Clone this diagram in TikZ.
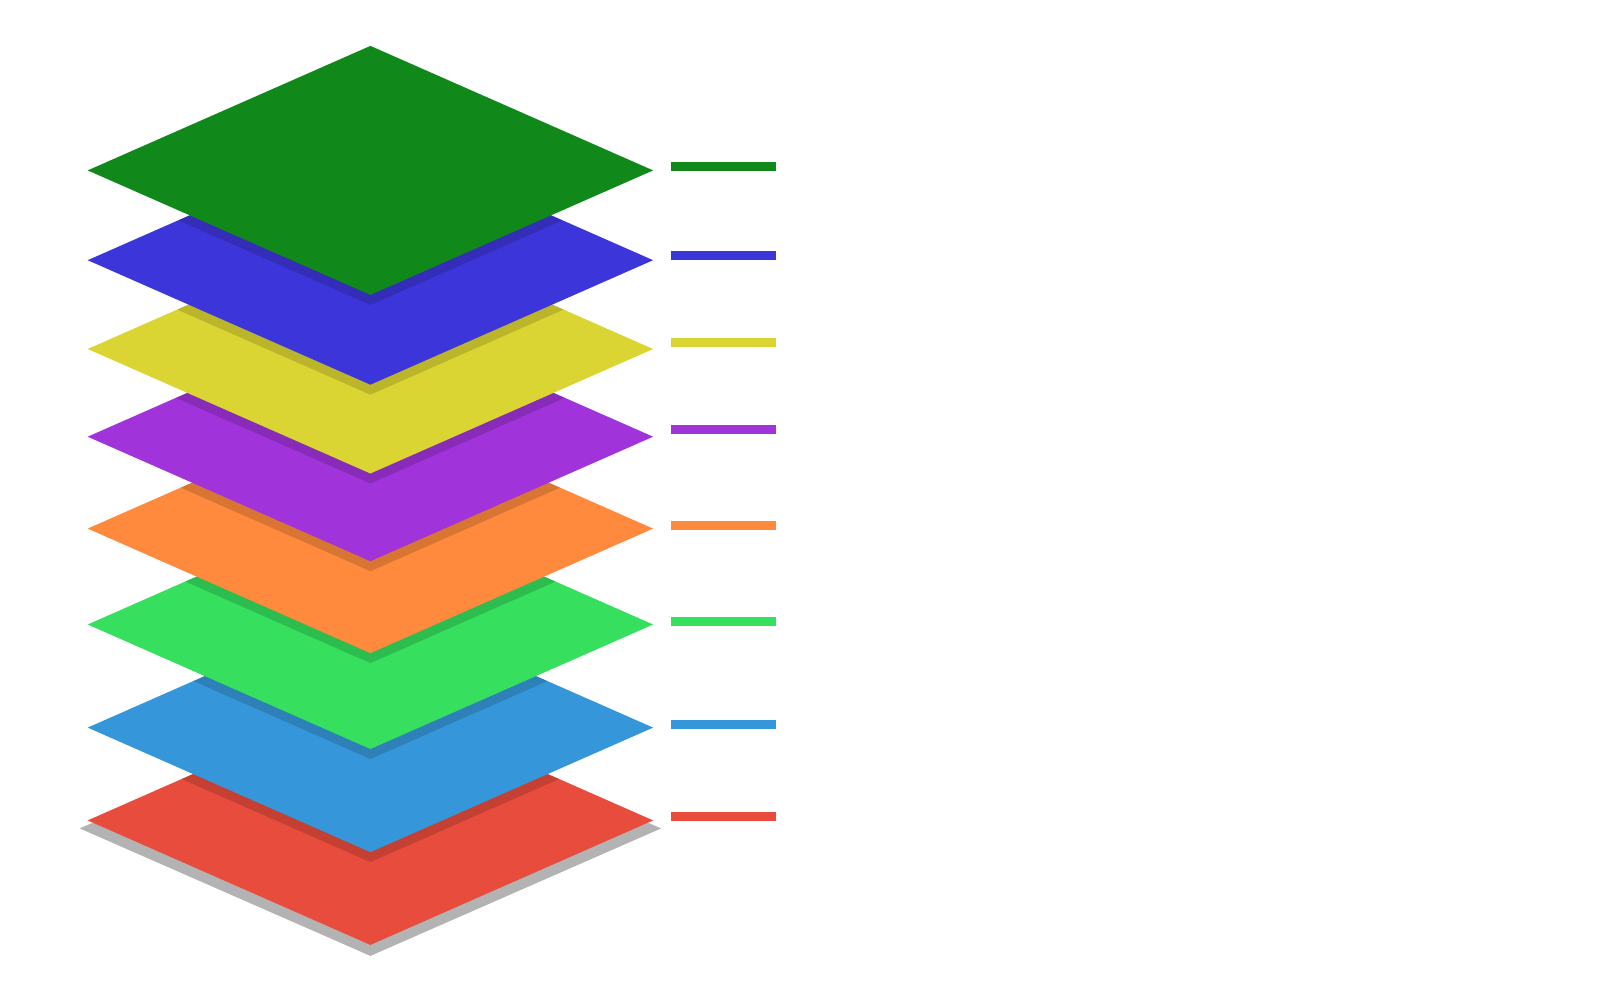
\documentclass[tikz,border=0pt]{standalone}
\definecolor{cA}{HTML}{E74C3C}
\definecolor{cB}{HTML}{3597D9}
\definecolor{cC}{HTML}{36DF5E}
\definecolor{cD}{HTML}{FF8A3D}
\definecolor{cE}{HTML}{A133DA}
\definecolor{cF}{HTML}{DBD533}
\definecolor{cG}{HTML}{3C35D9}
\definecolor{cH}{HTML}{10891A}
\definecolor{baseshadow}{HTML}{B3B3B3}
\tikzset{legendbar/.style={fill=#1, draw=none}}
\begin{document}
\begin{tikzpicture}[x=0.5pt,y=-0.5pt]
\useasboundingbox (0,0) rectangle (1600,1000);
\fill[white] (0,0) rectangle (1600,1000);
\def\cx{370.4}
\def\hw{282.7}
\def\hh{124.5}
% base shadow under bottom layer
\fill[baseshadow] (\cx-\hw-8,828.4) -- (\cx,828.4-\hh-2) -- (\cx+\hw+8,828.4) -- (\cx,828.4+\hh+3) -- cycle;
% layers bottom to top: colour / centre y / next centre y
\foreach \col/\cy/\ny [count=\i] in {cA/820.4/727.6, cB/727.6/624.5, cC/624.5/528.6, cD/528.6/436.7, cE/436.7/349.0, cF/349.0/260.2, cG/260.2/170.4, cH/170.4/0}{
  \fill[\col] (\cx-\hw,\cy) -- (\cx,\cy-\hh) -- (\cx+\hw,\cy) -- (\cx,\cy+\hh) -- cycle;
  \ifnum\i<8
  \begin{scope}
    \clip (\cx-\hw,\cy) -- (\cx,\cy-\hh) -- (\cx+\hw,\cy) -- (\cx,\cy+\hh) -- cycle;
    \fill[black,opacity=0.15] (\cx-\hw,\ny+10) -- (\cx,\ny+10-\hh) -- (\cx+\hw,\ny+10) -- (\cx,\ny+10+\hh) -- cycle;
  \end{scope}
  \fi
}
% legend bars
\foreach \col/\by [count=\j] in {cH/166.3, cG/255.1, cF/342.9, cE/429.6, cD/525.5, cC/621.4, cB/724.5, cA/816.3}{
  \node[legendbar=\col, minimum width=52.5pt, minimum height=4.5pt, inner sep=0pt, anchor=west] (bar\j) at (671,\by) {};
}
\end{tikzpicture}
\end{document}
